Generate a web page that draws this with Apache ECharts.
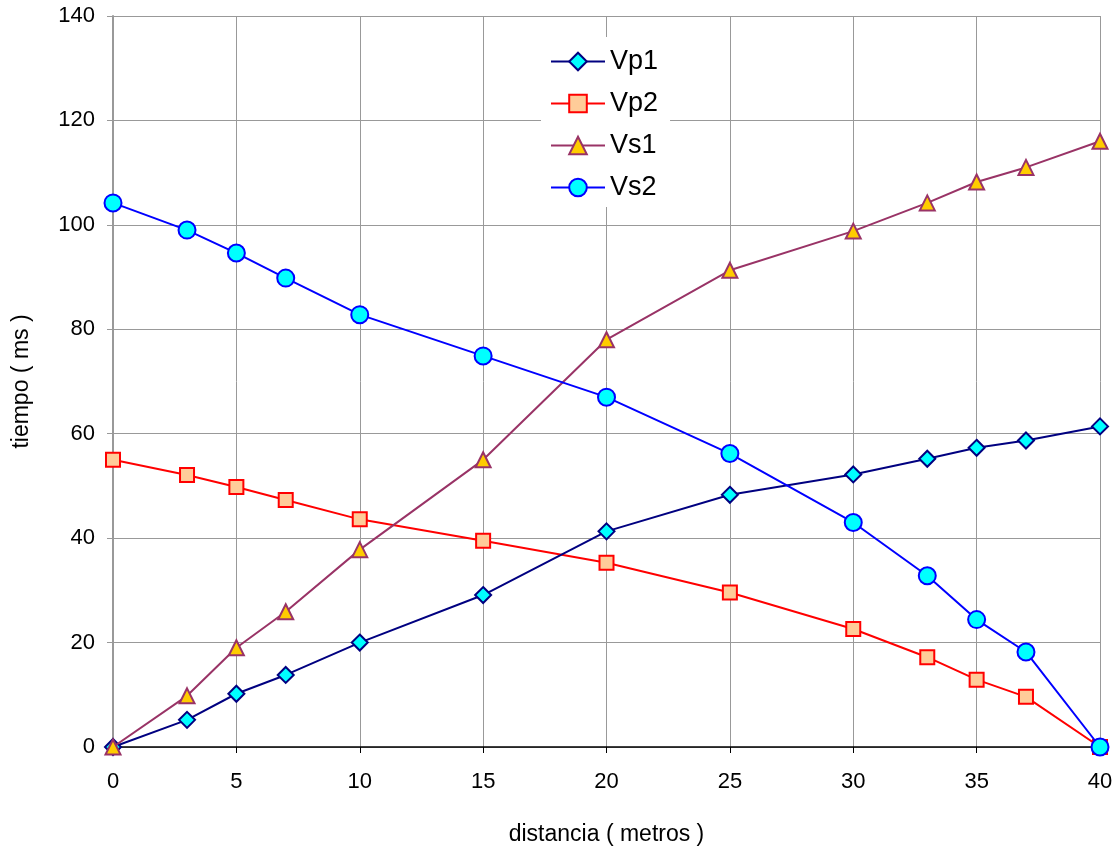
<!DOCTYPE html>
<html><head><meta charset="utf-8">
<script src="https://cdn.jsdelivr.net/npm/echarts@6/dist/echarts.min.js"></script>
<style>html,body{margin:0;padding:0;background:#fff}#c{width:1118px;height:851px}</style>
</head><body><div id="c"></div>
<script>
const distancia = [0, 3, 5, 7, 10, 15, 20, 25, 30, 33, 35, 37, 40];
const vp1 = [0, 5.2, 10.2, 13.8, 20, 29.1, 41.3, 48.3, 52.2, 55.2, 57.3, 58.7, 61.4];
const vp2 = [55, 52.1, 49.8, 47.3, 43.6, 39.5, 35.3, 29.6, 22.6, 17.2, 12.9, 9.6, 0];
const vs1 = [0, 9.8, 19, 25.9, 37.8, 55, 78, 91.3, 98.8, 104.2, 108.2, 111, 116];
const vs2 = [104.2, 99, 94.6, 89.8, 82.8, 74.9, 67, 56.2, 43, 32.8, 24.4, 18.2, 0];
const xTicks = [0, 5, 10, 15, 20, 25, 30, 35, 40];
const yTicks = [0, 20, 40, 60, 80, 100, 120, 140];

const pairs = arr => distancia.map((d, i) => [d, arr[i]]);
const font = 'Liberation Sans, Arial, sans-serif';

const chart = echarts.init(document.getElementById('c'));
chart.setOption({
  animation: false,
  backgroundColor: '#fff',
  grid: {left: 113, right: 18, top: 16, bottom: 104, containLabel: false},
  legend: {
    orient: 'vertical', left: 541, top: 37,
    padding: [11, 12, 6, 9],
    backgroundColor: '#fff',
    itemWidth: 54, itemHeight: 22, itemGap: 15,
    textStyle: {fontFamily: font, fontSize: 27, color: '#000', lineHeight: 22},
    data: ['Vp1', 'Vp2', 'Vs1', 'Vs2']
  },
  xAxis: {
    type: 'value', min: 0, max: 40, interval: 5,
    name: 'distancia ( metros )', nameLocation: 'middle', nameGap: 76,
    nameTextStyle: {fontFamily: font, fontSize: 23, color: '#000'},
    axisLine: {show: true, onZero: false, lineStyle: {color: '#000', width: 1.5}},
    axisTick: {show: true, length: 6, lineStyle: {color: '#000'}},
    axisLabel: {fontFamily: font, fontSize: 22, color: '#000', margin: 24,
      formatter: v => xTicks.includes(v) ? String(v) : ''},
    splitLine: {show: true, lineStyle: {color: '#999', width: 1}}
  },
  yAxis: {
    type: 'value', min: 0, max: 140, interval: 20,
    name: 'tiempo ( ms )', nameLocation: 'middle', nameGap: 80, nameRotate: 90,
    nameTextStyle: {fontFamily: font, fontSize: 23, color: '#000'},
    axisLine: {show: true, lineStyle: {color: '#999', width: 2}},
    axisTick: {show: true, length: 6, lineStyle: {color: '#999'}},
    axisLabel: {fontFamily: font, fontSize: 22, color: '#000', margin: 18,
      formatter: v => yTicks.includes(v) ? String(v) : ''},
    splitLine: {show: true, lineStyle: {color: '#999', width: 1}}
  },
  series: [
    {name: 'Vp1', type: 'line', data: pairs(vp1), symbol: 'diamond', symbolSize: 16,
      lineStyle: {color: '#000080', width: 2}, itemStyle: {color: '#00ffff', borderColor: '#000080', borderWidth: 2}, z: 3},
    {name: 'Vp2', type: 'line', data: pairs(vp2), symbol: 'rect', symbolSize: 14,
      lineStyle: {color: '#ff0000', width: 2}, itemStyle: {color: '#ffcc99', borderColor: '#ff0000', borderWidth: 2}, z: 2},
    {name: 'Vs1', type: 'line', data: pairs(vs1), symbol: 'triangle', symbolSize: 15,
      lineStyle: {color: '#993366', width: 2}, itemStyle: {color: '#ffcc00', borderColor: '#993366', borderWidth: 2}, z: 4},
    {name: 'Vs2', type: 'line', data: pairs(vs2), symbol: 'circle', symbolSize: 17,
      lineStyle: {color: '#0000ff', width: 2}, itemStyle: {color: '#00ffff', borderColor: '#0000ff', borderWidth: 2}, z: 5}
  ]
});
</script></body></html>
